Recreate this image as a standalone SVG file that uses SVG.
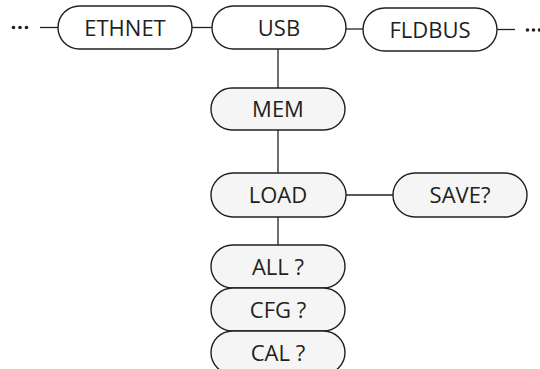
<svg xmlns="http://www.w3.org/2000/svg" width="540" height="369" viewBox="0 0 540 369">
<style>
.n rect{stroke:#231f20;stroke-width:1.4}
.top rect{fill:#ffffff}
.low rect{fill:#f5f5f5}
.n text{font-family:"Open Sans","Liberation Sans",sans-serif;font-size:22px;fill:#231f20;text-anchor:middle}
.c line{stroke:#231f20;stroke-width:1.3}
.d circle{fill:#231f20}
</style>
<rect width="540" height="369" fill="#ffffff"/>
<g id="connectors" class="c">
<line x1="40" y1="27.5" x2="58" y2="27.5"/>
<line x1="192" y1="27.5" x2="212" y2="27.5"/>
<line x1="346" y1="29" x2="363" y2="29"/>
<line x1="497" y1="29.5" x2="515" y2="29.5"/>
<line x1="278" y1="49" x2="278" y2="88"/>
<line x1="278" y1="130" x2="278" y2="173"/>
<line x1="346" y1="195" x2="393" y2="195"/>
<line x1="278" y1="217" x2="278" y2="245"/>
</g>
<g id="dots-left" class="d">
<circle cx="13.5" cy="27.5" r="1.8"/>
<circle cx="20" cy="27.5" r="1.8"/>
<circle cx="26.5" cy="27.5" r="1.8"/>
</g>
<g id="dots-right" class="d">
<circle cx="527.5" cy="30" r="1.8"/>
<circle cx="533.5" cy="30" r="1.8"/>
<circle cx="539.5" cy="30" r="1.8"/>
</g>
<g id="ethnet" class="n top"><rect x="58" y="6" width="134" height="43" rx="21.5"/><text x="125" y="35.5">ETHNET</text></g>
<g id="usb" class="n top"><rect x="212" y="6" width="134" height="43" rx="21.5"/><text x="279" y="35.5">USB</text></g>
<g id="fldbus" class="n top"><rect x="363" y="8" width="134" height="43" rx="21.5"/><text x="430" y="37.5">FLDBUS</text></g>
<g id="mem" class="n low"><rect x="211" y="88" width="134" height="42" rx="21"/><text x="278" y="117">MEM</text></g>
<g id="load" class="n low"><rect x="211" y="173" width="135" height="44" rx="22"/><text x="278" y="203">LOAD</text></g>
<g id="save" class="n low"><rect x="393" y="173" width="134" height="44" rx="22"/><text x="460" y="203">SAVE?</text></g>
<g id="all" class="n low"><rect x="211" y="245" width="134" height="43" rx="21.5"/><text x="278" y="274.5">ALL ?</text></g>
<g id="cfg" class="n low"><rect x="211" y="288" width="134" height="43" rx="21.5"/><text x="278" y="317.5">CFG ?</text></g>
<g id="cal" class="n low"><rect x="211" y="331" width="134" height="43" rx="21.5"/><text x="278" y="360.5">CAL ?</text></g>
</svg>
